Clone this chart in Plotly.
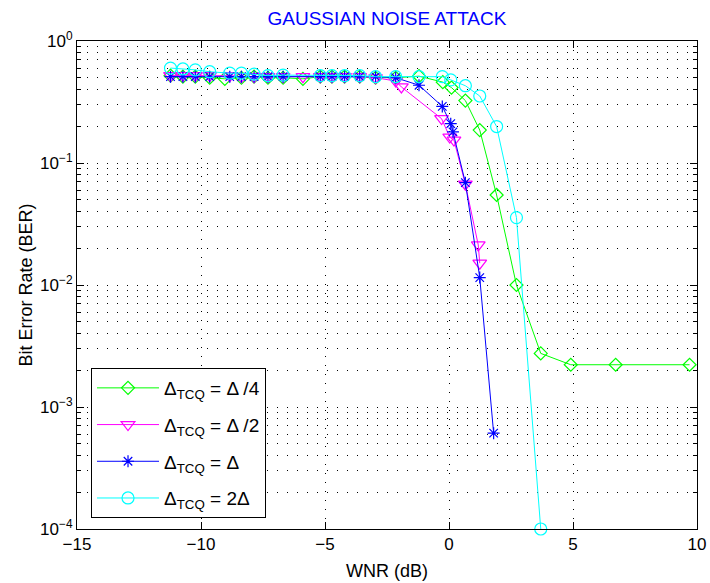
import plotly.graph_objects as go

# ---- data ----
x_green = [-11.23, -10.73, -10.23, -9.65, -9.04, -8.37, -7.86, -7.30, -6.69, -5.89, -5.19, -4.72, -4.21,
           -3.60, -2.96, -2.15, -1.21, -0.25, 0.10, 0.66, 1.24, 1.92, 2.72, 3.70, 4.91, 6.72, 9.70]
y_green = [0.52, 0.51, 0.51, 0.50, 0.49, 0.50, 0.51, 0.50, 0.50, 0.49, 0.51, 0.51, 0.51,
           0.51, 0.50, 0.50, 0.515, 0.46, 0.415, 0.325, 0.186, 0.0547, 0.0100, 0.00275, 0.00222, 0.00222, 0.00222]

x_magenta = [-11.23, -10.73, -10.23, -9.65, -8.84, -8.37, -7.86, -7.30, -6.69, -5.89, -5.19, -4.72, -4.21,
             -3.60, -2.96, -2.15, -1.92, -0.30, 0.03, 0.20, 0.66, 1.18, 1.24]
y_magenta = [0.52, 0.52, 0.52, 0.52, 0.52, 0.51, 0.51, 0.51, 0.51, 0.51, 0.51, 0.51, 0.51,
             0.51, 0.50, 0.47, 0.42, 0.231, 0.163, 0.154, 0.067, 0.0213, 0.0151]

x_blue = [-11.23, -10.73, -10.23, -9.65, -8.84, -8.37, -7.86, -7.30, -6.69, -5.19, -4.72, -4.21,
          -3.60, -2.96, -2.15, -1.21, -0.27, 0.07, 0.16, 0.66, 1.24, 1.80]
y_blue = [0.51, 0.51, 0.51, 0.51, 0.51, 0.51, 0.51, 0.51, 0.51, 0.51, 0.51, 0.51,
          0.51, 0.51, 0.50, 0.434, 0.291, 0.21, 0.18, 0.069, 0.0115, 0.00061]

x_cyan = [-11.23, -10.73, -10.23, -9.65, -8.84, -8.37, -7.86, -7.30, -6.69, -5.19, -4.72, -4.21,
          -3.60, -2.96, -2.15, -1.21, -0.27, 0.07, 0.66, 1.24, 1.92, 2.72, 3.70]
y_cyan = [0.60, 0.59, 0.58, 0.56, 0.545, 0.545, 0.535, 0.52, 0.525, 0.52, 0.52, 0.52,
          0.52, 0.51, 0.51, 0.51, 0.51, 0.48, 0.43, 0.354, 0.199, 0.0357, 0.0001]

series_names = ["Δ<sub>TCQ</sub> = Δ /4", "Δ<sub>TCQ</sub> = Δ /2",
                "Δ<sub>TCQ</sub> = Δ", "Δ<sub>TCQ</sub> = 2Δ"]

x_ticks = [-15, -10, -5, 0, 5, 10]
y_ticks = [1e-4, 1e-3, 1e-2, 1e-1, 1]
y_ticktext = ["10<sup>−4</sup>", "10<sup>−3</sup>", "10<sup>−2</sup>", "10<sup>−1</sup>", "10<sup>0</sup>"]

title_text = "GAUSSIAN NOISE ATTACK"
x_title = "WNR (dB)"
y_title = "Bit Error Rate (BER)"

# ---- figure ----
fig = go.Figure()
styles = [
    ("#00FF00", "diamond-open", 10),
    ("#FF00FF", "triangle-down-open", 12),
    ("#0000FF", "asterisk-open", 10),
    ("#00FFFF", "circle-open", 12),
]
xs = [x_green, x_magenta, x_blue, x_cyan]
ys = [y_green, y_magenta, y_blue, y_cyan]
for i, (xv, yv) in enumerate(zip(xs, ys)):
    color, sym, size = styles[i]
    fig.add_trace(go.Scatter(
        x=xv, y=yv, mode="lines+markers", name=series_names[i],
        legendgroup=f"g{i}",
        line=dict(color=color, width=1),
        marker=dict(symbol=sym, size=size, color=color, line=dict(color=color, width=1.2)),
        cliponaxis=False,
    ))

fig.update_layout(
    width=710, height=583,
    margin=dict(l=77, r=13, t=41, b=54, pad=0),
    paper_bgcolor="white", plot_bgcolor="white",
    font=dict(family="Liberation Sans, Arial, sans-serif", size=16, color="black"),
    title=dict(text=title_text, x=0.545, xanchor="center", y=0.969, yanchor="middle",
               font=dict(size=19, color="#0000FF")),
    legend=dict(x=0.0226, y=0.0225, xanchor="left", yanchor="bottom",
                bordercolor="black", borderwidth=1, bgcolor="white",
                font=dict(size=19), itemwidth=62, tracegroupgap=9),
    showlegend=True,
)
fig.update_xaxes(
    range=[-15, 10], tickmode="array", tickvals=x_ticks, automargin=False,
    showline=True, linecolor="black", linewidth=1, mirror="allticks",
    ticks="inside", ticklen=7, tickcolor="black",
    showgrid=True, gridcolor="black", gridwidth=1, griddash="1px,8px",
    zeroline=False,
    title=dict(text=x_title, standoff=10, font=dict(size=18)),
    tickfont=dict(size=17),
)
fig.update_yaxes(
    type="log", range=[-4, 0], tickmode="array", tickvals=y_ticks, ticktext=y_ticktext,
    automargin=False,
    showline=True, linecolor="black", linewidth=1, mirror="allticks",
    ticks="inside", ticklen=7, tickcolor="black",
    showgrid=True, gridcolor="black", gridwidth=1, griddash="1px,9px",
    zeroline=False,
    minor=dict(dtick="D1", showgrid=True, gridcolor="black", gridwidth=1, griddash="1px,9px",
               ticks="inside", ticklen=4, tickcolor="black"),
    title=dict(text=y_title, standoff=2, font=dict(size=18)),
    tickfont=dict(size=17),
)

fig.write_html("out.html", config={"displayModeBar": False},
               post_script="document.body.style.margin='0';")
